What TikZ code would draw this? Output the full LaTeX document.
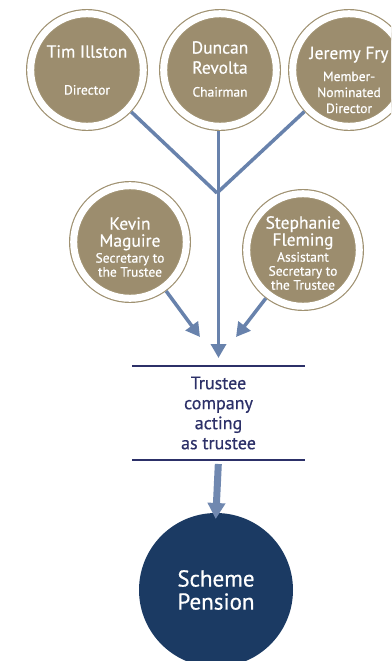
\documentclass[tikz,border=0pt]{standalone}
\usepackage{fontspec}
\setmainfont{PT Sans}[FakeBold=0.5]
\usepackage{tikz}
\usetikzlibrary{arrows.meta}
\definecolor{taupe}{RGB}{156, 141, 110}
\definecolor{ringtaupe}{RGB}{160, 146, 114}
\definecolor{linkblue}{RGB}{104, 130, 172}
\definecolor{navyline}{RGB}{44, 48, 104}
\definecolor{schemenavy}{RGB}{27, 58, 99}
\newcommand\namefont{\fontsize{17.5}{17}\selectfont}
\newcommand\rolefont{\fontsize{13.5}{17}\selectfont}

\begin{document}
\begin{tikzpicture}[
  x=1pt, y=-1pt,
  person/.style={
    circle, minimum size=112.6pt, inner sep=0pt, outer sep=4.7pt,
    fill=taupe, draw=ringtaupe, line width=1.2pt,
    double=white, double distance=7pt
  },
  who/.style={text=white, font=\namefont, align=center, inner sep=0pt},
  link/.style={draw=linkblue, line width=3.5pt},
  arrow/.style={link, -{Triangle[width=15pt, length=14pt]}},
  bigarrow/.style={draw=linkblue!95!white, line width=7pt, -{Triangle[width=17pt, length=16pt]}},
  rule/.style={draw=navyline, line width=1.4pt},
  trusteebox/.style={rectangle, minimum width=173pt, minimum height=94pt,
    inner sep=0pt, outer sep=0pt, text=navyline, align=center,
    font=\fontsize{18}{20}\selectfont},
  scheme/.style={circle, minimum size=154pt, inner sep=0pt, outer sep=0pt,
    fill=schemenavy, text=white, align=center, font=\fontsize{23}{23}\selectfont},
]

\useasboundingbox (0,0) rectangle (391,661);
\clip (0,0) rectangle (391,661);

% Directors (top row)
\node[person, label={[who]center:Tim Illston\\[20pt]\rolefont Director}] (tim) at (87,70) {};
\node[person, label={[who, yshift=1pt]center:Duncan\\[3pt]Revolta\\[6pt]\rolefont Chairman}] (duncan) at (220,70) {};
\node[person, label={[who, yshift=-10pt]center:Jeremy Fry\\[5pt]\rolefont Member-\\[-1pt]\rolefont Nominated\\[-1pt]\rolefont Director}] (jeremy) at (349,70) {};

% Secretaries (second row)
\node[person, label={[who, yshift=-5pt]center:Kevin\\Maguire\\[-1pt]\rolefont Secretary to\\[-3pt]\rolefont the Trustee}] (kevin) at (130,242) {};
\node[person, label={[who, yshift=-3pt]center:Stephanie\\Fleming\\[-1pt]\rolefont Assistant\\[-3pt]\rolefont Secretary to\\[-3pt]\rolefont the Trustee}] (stephanie) at (303,250) {};

% Trustee company and scheme
\node[trusteebox] (trustee) at (218.5,413) {Trustee\\company\\acting\\as trustee};
\node[scheme] (pension) at (216,590) {Scheme\\Pension};

\draw[rule] (trustee.north west) -- (trustee.north east);
\draw[rule] (trustee.south west) -- (trustee.south east);

% Connectors
\coordinate (fork) at (217,193);
\coordinate (kevtip) at (200,337);
\coordinate (steptip) at (236,337);

\draw[link] (tim) -- (fork);
\draw[link] (jeremy) -- (fork);
\draw[arrow] (duncan.south -| trustee.north) -- ([yshift=8pt]trustee.north);
\draw[arrow] (kevin) -- (kevtip);
\draw[arrow] (stephanie) -- (steptip);
\draw[bigarrow, shorten <=4pt, shorten >=-6pt] (trustee.south) -- (pension.north);

\end{tikzpicture}
\end{document}
